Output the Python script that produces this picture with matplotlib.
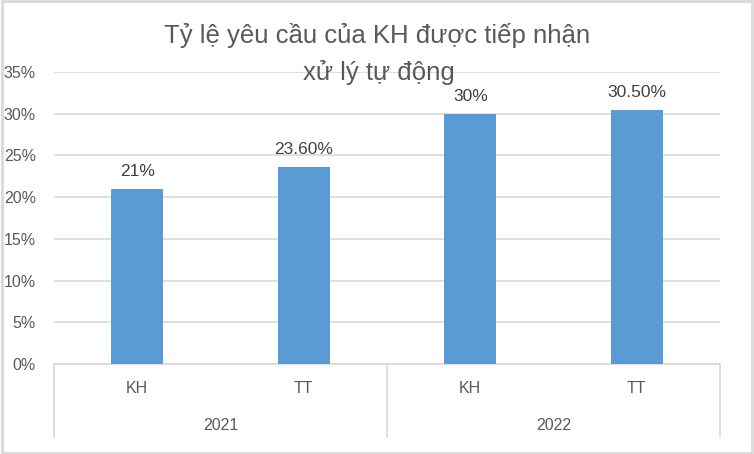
import matplotlib.pyplot as plt
from matplotlib.patches import Rectangle

plt.rcParams['font.family'] = ['Liberation Sans', 'DejaVu Sans']

# dữ liệu
years = ['2021', '2022']
categories = ['KH', 'TT', 'KH', 'TT']
values = [21, 23.6, 30, 30.5]
value_labels = ['21%', '23.60%', '30%', '30.50%']
y_ticks = [0, 5, 10, 15, 20, 25, 30, 35]

bar_color = '#5B9BD5'
grid_color = '#D9D9D9'
text_color = '#595959'

fig = plt.figure(figsize=(7.54, 4.54), dpi=100)
ax = fig.add_axes([54 / 754, 90 / 454, 666 / 754, 292 / 454])

x = list(range(len(values)))
ax.bar(x, values, width=0.31, color=bar_color, zorder=3)
ax.set_xlim(-0.5, len(values) - 0.5)
ax.set_ylim(0, 35)
ax.set_yticks(y_ticks)
ax.set_yticklabels([f'{t}%' for t in y_ticks])
ax.yaxis.grid(True, color=grid_color, linewidth=1.2, zorder=0)
ax.set_xticks([])
ax.tick_params(axis='y', length=0, pad=13, labelsize=11.5, labelcolor=text_color)
for s in ['top', 'right', 'left']:
    ax.spines[s].set_visible(False)
ax.spines['bottom'].set_color(grid_color)
ax.spines['bottom'].set_linewidth(1.2)

# nhãn giá trị
for xi, v, lab in zip(x, values, value_labels):
    ax.annotate(lab, (xi, v), xytext=(0, 7), textcoords='offset points',
                ha='center', va='bottom', fontsize=12.5, color='#404040')

# trục phân cấp
trans = ax.get_xaxis_transform()
for xs in [-0.5, 1.5, 3.5]:
    ax.plot([xs, xs], [0, -0.25], transform=trans, color=grid_color,
            linewidth=1.2, clip_on=False)
for xi, c in zip(x, categories):
    ax.text(xi, -0.083, c, transform=trans, ha='center', va='center',
            fontsize=11.5, color=text_color)
for gi, yr in enumerate(years):
    ax.text(gi * 2 + 0.5, -0.21, yr, transform=trans, ha='center', va='center',
            fontsize=11.5, color=text_color)

fig.text(0.5, 1 - 43 / 454, 'Tỷ lệ yêu cầu của KH được tiếp nhận', ha='center',
         va='baseline', fontsize=18.5, color=text_color)
fig.text(0.503, 1 - 80 / 454, 'xử lý tự động', ha='center',
         va='baseline', fontsize=18.5, color=text_color)

fig.patches.append(Rectangle((0.002, 0.003), 0.996, 0.994, transform=fig.transFigure,
                             fill=False, edgecolor='#D9D9D9', linewidth=2))

fig.savefig('out.png', dpi=100)
